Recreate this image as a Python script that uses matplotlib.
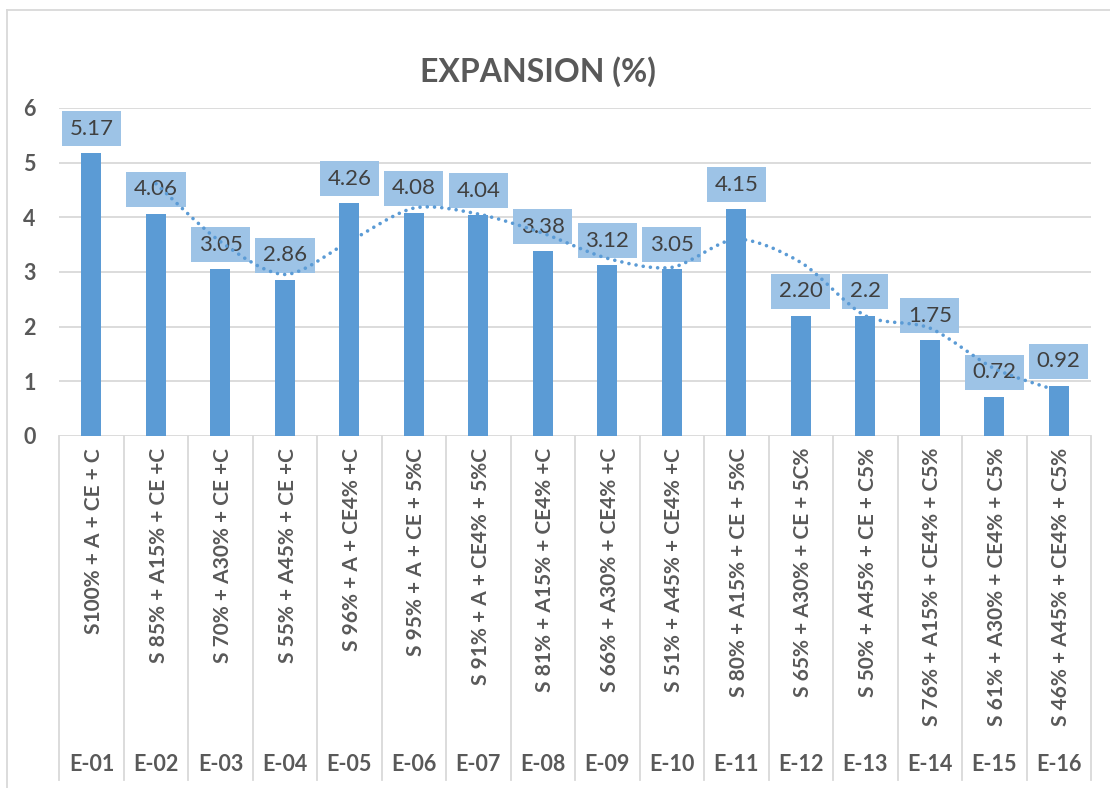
import matplotlib.pyplot as plt
import numpy as np
from matplotlib.path import Path
from matplotlib.patches import PathPatch
from matplotlib.lines import Line2D

codes = ["E-01", "E-02", "E-03", "E-04", "E-05", "E-06", "E-07", "E-08",
         "E-09", "E-10", "E-11", "E-12", "E-13", "E-14", "E-15", "E-16"]
mixes = ["S100% + A + CE + C", "S 85% + A15% + CE +C", "S 70% + A30% + CE +C",
         "S 55% + A45% + CE +C", "S 96% + A + CE4% +C", "S 95% + A + CE + 5%C",
         "S 91% + A + CE4% + 5%C", "S 81% + A15% + CE4% +C", "S 66% + A30% + CE4% +C",
         "S 51% + A45% + CE4% +C", "S 80% + A15% + CE + 5%C", "S 65% + A30% + CE + 5C%",
         "S 50% + A45% + CE + C5%", "S 76% + A15% + CE4% + C5%",
         "S 61% + A30% + CE4% + C5%", "S 46% + A45% + CE4% + C5%"]
expansion = [5.17, 4.06, 3.05, 2.86, 4.26, 4.08, 4.04, 3.38,
             3.12, 3.05, 4.15, 2.20, 2.2, 1.75, 0.72, 0.92]
value_labels = ["5.17", "4.06", "3.05", "2.86", "4.26", "4.08", "4.04", "3.38",
                "3.12", "3.05", "4.15", "2.20", "2.2", "1.75", "0.72", "0.92"]

bar_color = "#5B9BD5"
box_color = "#9DC3E6"
grey = "#595959"
line_grey = "#D9D9D9"

plt.rcParams['font.family'] = ['Lato', 'DejaVu Sans']

W, H = 1110, 788
fig = plt.figure(figsize=(W / 100, H / 100), dpi=100)
left, right, top, bottom = 59.25, 1091, 108, 436
ax = fig.add_axes([left / W, (H - bottom) / H, (right - left) / W, (bottom - top) / H])

x = np.arange(len(expansion))
ax.bar(x, expansion, width=0.31, color=bar_color, zorder=2)
ax.set_xlim(-0.5, len(expansion) - 0.5)
ax.set_ylim(0, 6)
ax.set_yticks(range(0, 7))
ax.yaxis.grid(True, color=line_grey, linewidth=1.3, zorder=0)
ax.set_axisbelow(True)
for s in ax.spines.values():
    s.set_visible(False)
ax.set_xticks([])
ax.tick_params(axis='y', length=0, pad=17, labelsize=15.5, labelcolor=grey)
for t in ax.get_yticklabels():
    t.set_fontweight('bold')

# data labels in boxes
for xi, v, lab in zip(x, expansion, value_labels):
    ax.annotate(lab, (xi, v), xytext=(0, 10.5), textcoords='offset points',
                ha='center', va='bottom', fontsize=16, color='#404040', zorder=3,
                bbox=dict(boxstyle='square,pad=0.34', fc=box_color, ec='none'))

# moving average (2 period) trendline, smoothed
ma_x = x[1:]
ma_y = (np.array(expansion[1:]) + np.array(expansion[:-1])) / 2
pts = np.column_stack([ma_x, ma_y])
verts = [pts[0]]
path_codes = [Path.MOVETO]
n = len(pts)
for i in range(n - 1):
    p0 = pts[max(i - 1, 0)]
    p1 = pts[i]
    p2 = pts[i + 1]
    p3 = pts[min(i + 2, n - 1)]
    verts += [p1 + (p2 - p0) / 7, p2 - (p3 - p1) / 7, p2]
    path_codes += [Path.CURVE4] * 3
trend = PathPatch(Path(verts, path_codes), fill=False, edgecolor=bar_color,
                  linewidth=2.6, linestyle=(0, (0.01, 2.0)), capstyle='round', zorder=4)
ax.add_patch(trend)

# multi-level category axis
sep_bottom = -(780 - bottom) / (bottom - top)
tr = ax.get_xaxis_transform()
for b in np.arange(-0.5, len(expansion), 1.0):
    ax.add_line(Line2D([b, b], [0, sep_bottom], transform=tr, color=line_grey,
                       linewidth=1.3, clip_on=False))
inner_y = -(448 - bottom) / (bottom - top)
outer_y = -(764.5 - bottom) / (bottom - top)
for xi, m, c in zip(x, mixes, codes):
    ax.text(xi + 0.04, inner_y, m, transform=tr, rotation=90, ha='center', va='top',
            fontsize=15, fontweight='bold', color=grey)
    ax.text(xi, outer_y, c, transform=tr, ha='center', va='center',
            fontsize=15.5, fontweight='bold', color=grey)

fig.text(537.5 / W, 1 - 72 / H, "EXPANSION (%)", ha='center', va='center',
         fontsize=23, fontweight='bold', color=grey)

# chart area border
fig.add_artist(Line2D([7 / W, 7 / W], [0, 1 - 10 / H], color=line_grey, linewidth=1.3))
fig.add_artist(Line2D([7 / W, 1], [1 - 10 / H, 1 - 10 / H], color=line_grey, linewidth=1.3))

fig.savefig("out.png", dpi=100)
